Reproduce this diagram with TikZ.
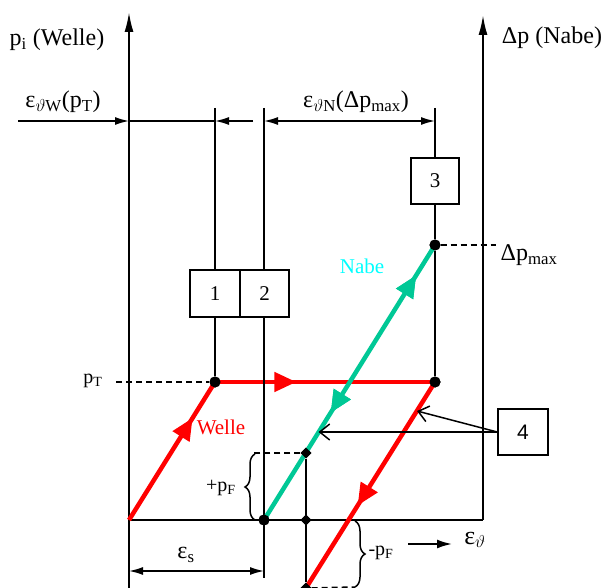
\documentclass[tikz,border=0pt]{standalone}
\usepackage{fontspec}
\setmainfont{Liberation Serif}
\newfontfamily\sansf{Liberation Sans}
\usetikzlibrary{arrows.meta,decorations.markings,decorations.pathreplacing,shapes.geometric}
\definecolor{wred}{RGB}{255,0,0}
\definecolor{ngreen}{RGB}{0,200,150}
\definecolor{ncyan}{RGB}{0,255,255}
\begin{document}
\begin{tikzpicture}[x=1pt,y=-1pt,
  thinline/.style={line width=1.5pt},
  axisline/.style={line width=2pt,-{Latex[length=20pt,width=9pt]}},
  dashline/.style={line width=1.5pt,dash pattern=on 6pt off 4pt},
  numbox/.style={draw,line width=1.5pt,minimum width=50pt,minimum height=47pt,inner sep=0pt,font=\fontsize{21}{24}\selectfont},
  dotnode/.style={circle,fill=black,inner sep=0pt,minimum size=11pt},
  dianode/.style={diamond,fill=black,inner sep=0pt,minimum size=11pt},
  redline/.style={wred,line width=4.5pt},
  greenline/.style={ngreen,line width=4.5pt},
  lbl/.style={inner sep=0pt,font=\fontsize{24}{28}\selectfont},
  mlbl/.style={inner sep=0pt,font=\fontsize{21}{24}\selectfont},
  slbl/.style={inner sep=0pt,font=\fontsize{20}{24}\selectfont},
  midfwd/.style={postaction={decorate},decoration={markings,mark=at position #1 with {\arrow{Triangle[length=22pt,width=19pt]}}}},
  midbwd/.style={postaction={decorate},decoration={markings,mark=at position #1 with {\arrowreversed{Triangle[length=22pt,width=19pt]}}}},
  openarrow/.style={line width=1.5pt,-{Straight Barb[length=10pt,width=16pt]}},
  bracel/.style={line width=1.5pt,decorate,decoration={brace,amplitude=10pt}}
]
\useasboundingbox (0,0) rectangle (608,588);

% coordinates
\coordinate (Lbot) at (129,588);
\coordinate (Ltop) at (129,12);
\coordinate (Rbot) at (483,520);
\coordinate (Rtop) at (483,15);
\coordinate (O) at (129,520);
\coordinate (Q) at (306,588);
\coordinate (Dl) at (18,121);
\coordinate (D0) at (129,121);
\coordinate (D1) at (215,121);
\coordinate (D1r) at (253,121);
\coordinate (D2) at (264,121);
\coordinate (D3) at (435,121);
\coordinate (T1) at (215,108);
\coordinate (T2) at (264,108);
\coordinate (T3) at (435,108);
\coordinate (B2) at (264,578);
\coordinate (G) at (318.5,432);
\coordinate (R) at (417,411);
\coordinate (ES0) at (129,571);
\coordinate (ES1) at (264,571);

% boxes
\node[numbox] (b1) at (215,293.5) {1};
\node[numbox,minimum width=49pt] (b2) at (264.5,293.5) {2};
\node[numbox,minimum width=48pt,minimum height=46pt] (b3) at (435,181) {3};
\node[numbox,minimum height=46pt,font=\sansf\fontsize{21}{24}\selectfont] (b4) at (523,432) {4};

% dots
\node[dotnode] (P1) at (215,382) {};
\node[dotnode] (P4) at (435,382) {};
\node[dotnode] (P3) at (435,245) {};
\node[dotnode] (S) at (264,520) {};
\node[dianode] (F1) at (306,453) {};
\node[dianode] (F0) at (306,520) {};
\node[dianode] (F2) at (306,588) {};

% axes
\draw[axisline] (Lbot) -- (Ltop);
\draw[axisline] (Rbot) -- (Rtop);
\draw[thinline] (O) -- (Rbot);

% dimension line top
\draw[thinline,-{Latex[length=14pt,width=8pt]}] (Dl) -- (D0);
\draw[thinline] (D0) -- (D1);
\draw[thinline,-{Latex[length=14pt,width=8pt]}] (D1r) -- (D1);
\draw[thinline,{Latex[length=14pt,width=8pt]}-{Latex[length=14pt,width=8pt]}] (D2) -- (D3);

% dashed
\draw[dashline] (116,382) -- (P1);
\draw[dashline] (P3) -- (496,245);
\draw[dashline] (F1) -- (254,453);
\draw[dashline] (F2) -- (355,587);

% red path
\draw[redline,midfwd=0.74] (O) -- (P1.center);
\draw[redline,midfwd=0.37] (P1.center) -- (P4.center);
\draw[redline,midfwd=0.6] (P4.center) -- (Q);

% verticals
\draw[thinline] (T1) -- (b1.north);
\draw[thinline] (b1.south) -- (P1);
\draw[thinline] (T2) -- (T2 |- b2.north);
\draw[thinline] (T2 |- b2.south) -- (B2);
\draw[thinline] (T3) -- (b3.north);
\draw[thinline] (b3.south) -- (P3);
\draw[thinline] (P3) -- (P4);
\draw[thinline] (F1) -- (F2);

% green
\draw[greenline,midfwd=0.89,midbwd=0.39] (S.center) -- (P3.center);

% redraw dots on top
\node[dotnode] at (P1) {};
\node[dotnode] at (P4) {};
\node[dotnode] at (P3) {};
\node[dotnode] at (S) {};
\node[dianode] at (F1) {};
\node[dianode] at (F0) {};
\node[dianode] at (F2) {};

% box 4 arrows
\draw[openarrow] (b4.west) -- (G);
\draw[openarrow] (b4.west) -- (R);

% braces
\draw[bracel] (255,520) -- (255,454);
\draw[bracel] (355,521) -- (355,587);

% eps_s
\draw[thinline,{Latex[length=14pt,width=8pt]}-{Latex[length=14pt,width=8pt]}] (ES0) -- (ES1);
% eps_theta arrow
\coordinate (EA0) at (408,544);
\coordinate (EA1) at (452,544);
\draw[line width=2pt,-{Latex[length=15pt,width=9pt]}] (EA0) -- (EA1);

% labels
\node[lbl] (lw) at (57,40) {p\textsubscript{i} (Welle)};
\node[lbl] (ln) at (552,38) {Δp (Nabe)};
\node[lbl] (le1) at (63,102) {ε\textsubscript{$\vartheta$W}(p\textsubscript{T})};
\node[lbl] (le2) at (356,102) {ε\textsubscript{$\vartheta$N}(Δp\textsubscript{max})};
\node[lbl] (ldp) at (529,255) {Δp\textsubscript{max}};
\node[mlbl,text=ncyan] (lnabe) at (362,266) {Nabe};
\node[slbl] (lpt) at (93,381) {p\textsubscript{T}};
\node[mlbl,text=wred] (lwelle) at (221,427) {Welle};
\node[slbl] (lpf) at (221,488) {+p\textsubscript{F}};
\node[slbl] (lmf) at (381,553) {-p\textsubscript{F}};
\node[lbl,font=\fontsize{26}{30}\selectfont] (let) at (475,540) {ε\textsubscript{$\vartheta$}};
\node[lbl] (les) at (186,555) {ε\textsubscript{s}};
\end{tikzpicture}
\end{document}
